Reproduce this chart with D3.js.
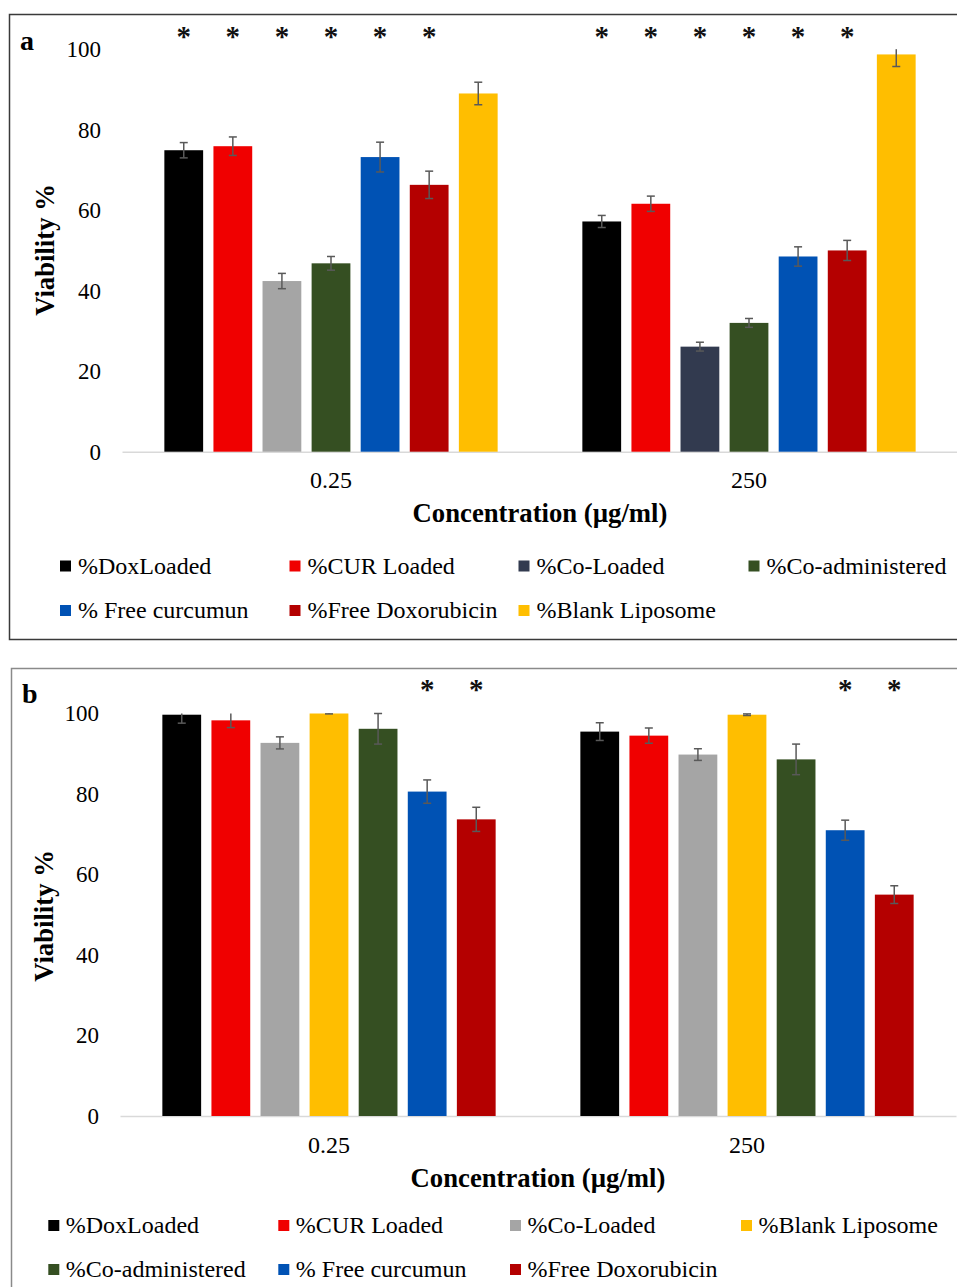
<!DOCTYPE html>
<html>
<head>
<meta charset="utf-8">
<script src="https://cdn.jsdelivr.net/npm/d3@7/dist/d3.min.js"></script>
<style>
  html, body { margin: 0; padding: 0; background: #fff; }
  svg { display: block; font-family: "Liberation Serif", "Times New Roman", serif; }
</style>
</head>
<body>
<svg id="chart" width="957" height="1287"></svg>
<script>
// ---- data ----
const categories = ["0.25", "250"];

// panel a
const seriesA = ["%DoxLoaded", "%CUR Loaded", "%Co-Loaded", "%Co-administered",
                 "% Free curcumun", "%Free Doxorubicin", "%Blank Liposome"];
const meanA_025 = [74.9, 75.9, 42.4, 46.8, 73.2, 66.3, 89.0];
const errA_025  = [1.9, 2.3, 1.9, 1.7, 3.7, 3.4, 2.8];
const meanA_250 = [57.2, 61.6, 26.1, 32.0, 48.5, 50.0, 98.7];
const errA_250  = [1.5, 1.9, 1.1, 1.1, 2.4, 2.5, 3.0];
const starA_025 = [1, 1, 1, 1, 1, 1, 0];
const starA_250 = [1, 1, 1, 1, 1, 1, 0];

// panel b
const seriesB = ["%DoxLoaded", "%CUR Loaded", "%Co-Loaded", "%Blank Liposome",
                 "%Co-administered", "% Free curcumun", "%Free Doxorubicin"];
const meanB_025 = [99.7, 98.3, 92.7, 100.0, 96.2, 80.6, 73.7];
const errB_025  = [2.1, 1.8, 1.5, 0.1, 3.8, 2.9, 3.0];
const meanB_250 = [95.5, 94.5, 89.8, 99.7, 88.6, 71.0, 55.0];
const errB_250  = [2.2, 1.9, 1.45, 0.2, 3.8, 2.5, 2.2];
const starB_025 = [0, 0, 0, 0, 0, 1, 1];
const starB_250 = [0, 0, 0, 0, 0, 1, 1];

const yTicks = [0, 20, 40, 60, 80, 100];

// ---- styles ----
const colors = {
    "%DoxLoaded": "#000000",
    "%CUR Loaded": "#f00000",
    "%Co-Loaded": "#a5a5a5",
    "%Co-administered": "#354f22",
    "% Free curcumun": "#0052b4",
    "%Free Doxorubicin": "#b40000",
    "%Blank Liposome": "#ffbe00"
};
// panel a uses a dark slate for Co-Loaded except the 0.25 bar, which is grey
const colorsA = Object.assign({}, colors, {"%Co-Loaded": "#323a4f"});
const overrideA = {"0.25|%Co-Loaded": "#a5a5a5"};

const svg = d3.select("#chart");

function drawPanel(cfg) {
    const g = svg.append("g");

    // frame
    g.append("rect")
        .attr("x", cfg.frame[0]).attr("y", cfg.frame[1])
        .attr("width", cfg.frame[2]).attr("height", cfg.frame[3])
        .attr("fill", "none").attr("stroke", cfg.frameColor).attr("stroke-width", 1.5);

    const x0 = d3.scaleBand().domain(categories).range(cfg.xRange);
    const bw = x0.bandwidth();
    const span = bw * 0.822;
    const x1 = d3.scaleBand().domain(cfg.series)
        .range([(bw - span) / 2, (bw + span) / 2])
        .paddingInner(0.21).paddingOuter(0.105);
    const y = d3.scaleLinear().domain([0, 100]).range([cfg.y0, cfg.y100]);

    // y axis labels
    const ya = g.append("g")
        .attr("transform", "translate(" + cfg.xRange[0] + ",0)")
        .call(d3.axisLeft(y).tickValues(yTicks).tickSize(0).tickPadding(21));
    ya.select(".domain").remove();
    ya.selectAll("text")
        .attr("font-size", 23).attr("fill", "#000")
        .attr("font-family", "Liberation Serif, serif");

    // x axis
    const xa = g.append("g")
        .attr("transform", "translate(0," + cfg.y0 + ")")
        .call(d3.axisBottom(x0).tickSize(0));
    xa.select(".domain").attr("stroke", "#d9d9d9").attr("stroke-width", 1.5);
    xa.selectAll("text")
        .attr("dy", null).attr("y", cfg.xTickDy)
        .attr("font-size", 24).attr("fill", "#000")
        .attr("font-family", "Liberation Serif, serif");

    // bars
    const rows = [];
    categories.forEach((c, ci) => {
        cfg.series.forEach((s, si) => {
            rows.push({cat: c, s: s, v: cfg.means[ci][si], e: cfg.errs[ci][si], star: cfg.stars[ci][si]});
        });
    });

    const cx = d => x0(d.cat) + x1(d.s) + x1.bandwidth() / 2;

    g.append("g").selectAll("rect")
        .data(rows).enter().append("rect")
        .attr("x", d => x0(d.cat) + x1(d.s))
        .attr("y", d => y(d.v))
        .attr("width", x1.bandwidth())
        .attr("height", d => y(0) - y(d.v))
        .attr("fill", d => (cfg.override[d.cat + "|" + d.s]) || cfg.colors[d.s]);

    // error bars (clipped at axis max like the original)
    const eg = g.append("g").attr("stroke", "#595959").attr("stroke-width", 1.5);
    rows.forEach(d => {
        const hi = Math.min(100, d.v + d.e), lo = d.v - d.e;
        const x = cx(d);
        eg.append("line").attr("x1", x).attr("x2", x).attr("y1", y(hi)).attr("y2", y(lo));
        eg.append("line").attr("x1", x - 4).attr("x2", x + 4).attr("y1", y(lo)).attr("y2", y(lo));
        if (d.v + d.e <= 100.05)
            eg.append("line").attr("x1", x - 4).attr("x2", x + 4).attr("y1", y(hi)).attr("y2", y(hi));
    });

    // significance stars
    g.append("g").selectAll("text")
        .data(rows.filter(d => d.star)).enter().append("text")
        .attr("x", cx).attr("y", cfg.starY)
        .attr("text-anchor", "middle").attr("font-size", 29).attr("font-weight", "bold")
        .attr("fill", "#111")
        .text("*");

    // panel letter
    g.append("text")
        .attr("x", cfg.letterPos[0]).attr("y", cfg.letterPos[1])
        .attr("font-size", 28).attr("font-weight", "bold")
        .text(cfg.letter);

    // y title
    g.append("text")
        .attr("transform", "translate(" + cfg.yTitle[0] + "," + cfg.yTitle[1] + ") rotate(-90)")
        .attr("text-anchor", "middle").attr("font-size", 26.7).attr("font-weight", "bold")
        .text("Viability %");

    // x title
    g.append("text")
        .attr("x", (cfg.xRange[0] + cfg.xRange[1]) / 2).attr("y", cfg.xTitleY)
        .attr("text-anchor", "middle").attr("font-size", 26.7).attr("font-weight", "bold")
        .text("Concentration (\u00b5g/ml)");

    // legend
    const lg = g.append("g");
    cfg.series.forEach((s, i) => {
        const r = Math.floor(i / 4), c = i % 4;
        const lx = cfg.legendCols[c], ly = cfg.legendRows[r];
        lg.append("rect")
            .attr("x", lx).attr("y", ly - 5.5).attr("width", 11).attr("height", 11)
            .attr("fill", cfg.colors[s]);
        lg.append("text")
            .attr("x", lx + cfg.legendTextOff).attr("y", ly + 7.5)
            .attr("font-size", 24)
            .text(s);
    });
}

drawPanel({
    letter: "a",
    series: seriesA,
    colors: colorsA,
    override: overrideA,
    means: [meanA_025, meanA_250],
    errs: [errA_025, errA_250],
    stars: [starA_025, starA_250],
    frame: [9.5, 14.5, 960, 625],
    frameColor: "#3a3a3a",
    xRange: [122, 958],
    y0: 451.7, y100: 49.2,
    xTickDy: 36,
    xTitleY: 522,
    starY: 46,
    letterPos: [20, 50],
    yTitle: [54, 250],
    legendRows: [566, 610.5],
    legendCols: [60, 289.5, 518.5, 748.5],
    legendTextOff: 18
});

drawPanel({
    letter: "b",
    series: seriesB,
    colors: colors,
    override: {},
    means: [meanB_025, meanB_250],
    errs: [errB_025, errB_250],
    stars: [starB_025, starB_250],
    frame: [11.5, 668.5, 960, 640],
    frameColor: "#8a8a8a",
    xRange: [120, 956],
    y0: 1116, y100: 713.5,
    xTickDy: 37,
    xTitleY: 1187,
    starY: 699,
    letterPos: [22, 703],
    yTitle: [52.6, 916],
    legendRows: [1225.5, 1269.5],
    legendCols: [48.3, 278.3, 510, 741],
    legendTextOff: 17.5
});
</script>
</body>
</html>
